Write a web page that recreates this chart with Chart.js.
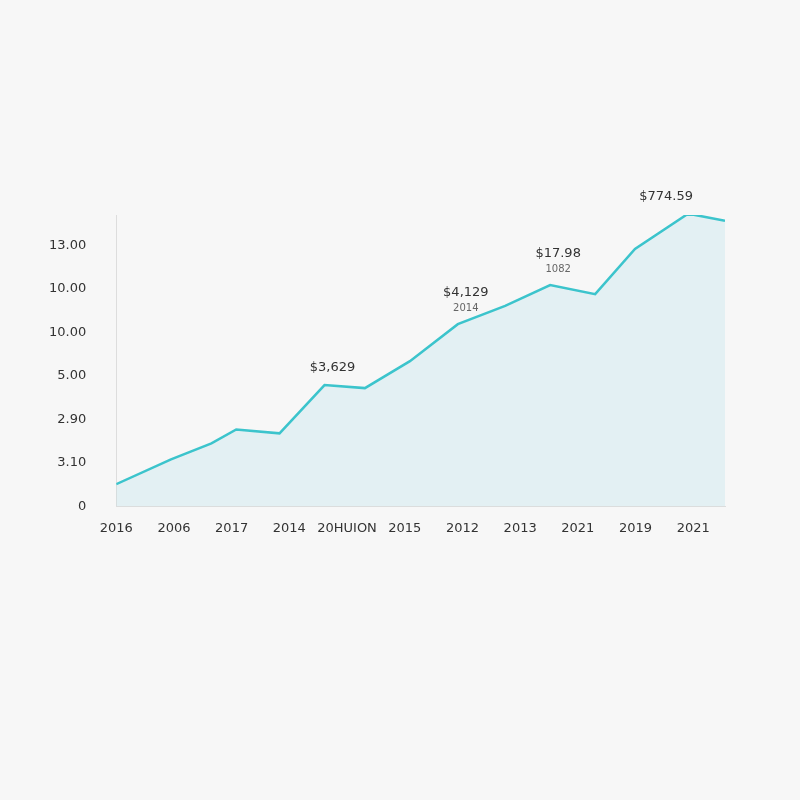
<!DOCTYPE html>
<html><head><meta charset="utf-8">
<script src="https://cdn.jsdelivr.net/npm/chart.js@4"></script>
<style>html,body{margin:0;background:#f7f7f7;}#w{width:800px;height:800px;}</style>
</head><body><div id="w"><canvas id="c"></canvas></div>
<script>
const xLabels=["2016","2006","2017","2014","20HUION","2015","2012","2013","2021","2019","2021"];
const yLabels=["0","3.10","2.90","5.00","10.00","10.00","13.00"];
const xPos=[0,0.95,1.65,2.08,2.83,3.61,4.31,5.09,5.92,6.74,7.52,8.3,8.99,9.91,10.55];
const values=[0.51,1.08,1.45,1.77,1.68,2.79,2.72,3.34,4.19,4.61,5.09,4.88,5.92,6.73,6.57];
const notes=[{i:5,t:"$3,629",s:""},{i:8,t:"$4,129",s:"2014"},{i:10,t:"$17.98",s:"1082"},{i:13,t:"$774.59",s:""}];
const pts=xPos.map((x,i)=>({x:x,y:values[i]}));
const notePlugin={id:'notes',afterDatasetsDraw(ch){const c=ch.ctx,xs=ch.scales.x,ys=ch.scales.y;c.save();c.textAlign='center';c.fillStyle='#333';
notes.forEach(n=>{const px=xs.getPixelForValue(xPos[n.i])+ (n.i==13?-22:8);const py=ys.getPixelForValue(values[n.i]);
c.font='13px "DejaVu Sans"';c.fillText(n.t,px,py-(n.s?28:14));if(n.s){c.font='10px "DejaVu Sans"';c.fillStyle='#666';c.fillText(n.s,px,py-13);c.fillStyle='#333';}});c.restore();}};
new Chart(document.getElementById('c'),{type:'line',data:{datasets:[{data:pts,borderColor:'#3cc4cc',borderWidth:2.5,backgroundColor:'rgba(190,225,235,0.35)',fill:'origin',pointRadius:0,tension:0}]},
options:{responsive:true,maintainAspectRatio:false,animation:false,layout:{padding:{left:27,right:75,top:215,bottom:258}},
plugins:{legend:{display:false},tooltip:{enabled:false}},
scales:{x:{type:'linear',min:0,max:10.55,grid:{display:false},border:{color:'#ddd'},
afterBuildTicks(a){a.ticks=xLabels.map((_,i)=>({value:i}));},
ticks:{callback:(v)=>xLabels[v]??'',color:'#333',font:{size:13,family:'DejaVu Sans'},padding:6,maxRotation:0,autoSkip:false}},
y:{min:0,max:6.7,grid:{display:false},border:{color:'#ddd'},afterBuildTicks(a){a.ticks=yLabels.map((_,i)=>({value:i}));},
ticks:{callback:(v)=>yLabels[v]??'',color:'#333',font:{size:13,family:'DejaVu Sans'},padding:22}}}},plugins:[notePlugin]});
</script></body></html>
